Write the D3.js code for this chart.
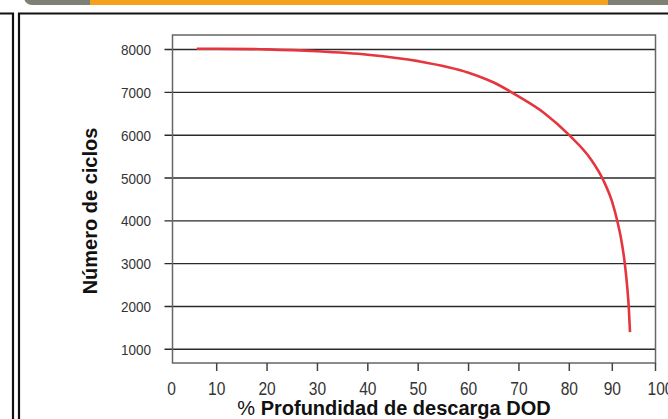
<!DOCTYPE html>
<html lang="es">
<head>
<meta charset="UTF-8">
<title>Ciclos vs DOD</title>
<script src="https://d3js.org/d3.v7.min.js"></script>
<style>
  body { margin: 0; background: #fff; }
  svg { display: block; font-family: "Liberation Sans", Arial, sans-serif; }
</style>
</head>
<body>
<svg id="chart" width="668" height="419"></svg>
<script>
// datos
const dod = [5.5, 10, 20, 30, 40, 50, 60, 65, 70, 75, 80, 85, 88, 90, 91.1, 92, 92.9, 93.5, 93.8, 94.1];
const ciclos = [8020, 8020, 8005, 7960, 7880, 7730, 7460, 7230, 6900, 6520, 6000, 5440, 4930, 4430, 4020, 3600, 3000, 2400, 2000, 1400];
const xTicks = [0, 10, 20, 30, 40, 50, 60, 70, 80, 90, 100];
const yTicks = [1000, 2000, 3000, 4000, 5000, 6000, 7000, 8000];

const svg = d3.select("#chart");

// marco decorativo de la pagina
svg.append("rect").attr("x", 24).attr("y", -12).attr("width", 660).attr("height", 17)
  .attr("rx", 8).attr("fill", "#7d8074");
svg.append("rect").attr("x", 90).attr("y", -12).attr("width", 518).attr("height", 17)
  .attr("fill", "#f5a11c");
svg.append("path").attr("d", "M0,13.5H13V419").attr("fill", "none").attr("stroke", "#111").attr("stroke-width", 2.2);
svg.append("path").attr("d", "M19,419V13.5H668").attr("fill", "none").attr("stroke", "#111").attr("stroke-width", 2.2);

// escalas (el eje x del original no es del todo lineal)
const x = d3.scaleLinear()
  .domain([0, 10, 80, 90, 100])
  .range([172.5, 216.7, 569.3, 612.3, 655.5]);
const y = d3.scaleLinear().domain([680, 8340]).range([363, 35]);

const x0 = x(0), x1 = x(100), y0 = y(680), y1 = y(8340);

// lineas de cuadricula + marcas y
svg.append("g").selectAll("line").data(yTicks).join("line")
  .attr("x1", x0 - 8).attr("x2", x1)
  .attr("y1", d => y(d)).attr("y2", d => y(d))
  .attr("stroke", "#2a2a2a").attr("stroke-width", 1.4);

// marco del grafico
svg.append("rect").attr("x", x0).attr("y", y1)
  .attr("width", x1 - x0).attr("height", y0 - y1)
  .attr("fill", "none").attr("stroke", "#666").attr("stroke-width", 1.5);

// marcas x
svg.append("g").selectAll("line").data(xTicks.filter(d => d > 0)).join("line")
  .attr("x1", d => x(d)).attr("x2", d => x(d))
  .attr("y1", y0).attr("y2", y0 + 8)
  .attr("stroke", "#444").attr("stroke-width", 1.5);

// etiquetas y
svg.append("g").selectAll("text").data(yTicks).join("text")
  .attr("transform", d => `translate(151,${y(d) + 5.5}) scale(0.9,1)`)
  .attr("text-anchor", "end")
  .attr("font-size", 15)
  .attr("fill", "#333")
  .text(d => d);

// etiquetas x
svg.append("g").selectAll("text").data(xTicks).join("text")
  .attr("transform", d => `translate(${d === 0 ? x(d) - 1 : x(d) + (d === 100 ? 5 : 0)},395) scale(0.82,1)`)
  .attr("text-anchor", "middle")
  .attr("font-size", 19)
  .attr("fill", "#333")
  .text(d => d);

// curva
const line = d3.line()
  .x((d, i) => x(dod[i]))
  .y(d => y(d))
  .curve(d3.curveMonotoneX);

svg.append("path")
  .datum(ciclos)
  .attr("d", line)
  .attr("fill", "none")
  .attr("stroke", "#e5353f")
  .attr("stroke-width", 2.6)
  .attr("stroke-linecap", "butt");

// titulos
const xt = svg.append("text")
  .attr("x", 394).attr("y", 415)
  .attr("text-anchor", "middle")
  .attr("font-size", 20)
  .attr("font-weight", "bold")
  .attr("fill", "#111");
xt.append("tspan").attr("font-weight", "normal").text("%");
xt.append("tspan").text(" Profundidad de descarga DOD");

svg.append("text")
  .attr("transform", "translate(96.5,211) rotate(-90)")
  .attr("text-anchor", "middle")
  .attr("font-size", 20)
  .attr("font-weight", "bold")
  .attr("fill", "#111")
  .text("Número de ciclos");
</script>
</body>
</html>
